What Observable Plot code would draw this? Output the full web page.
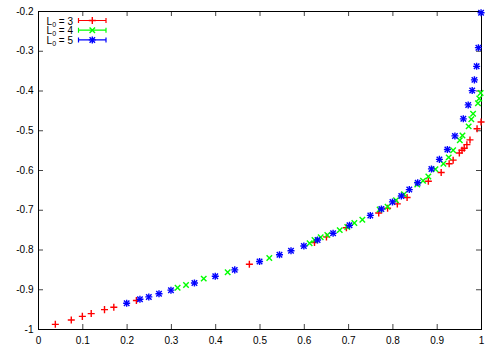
<!DOCTYPE html>
<html><head><meta charset="utf-8">
<script src="https://cdn.jsdelivr.net/npm/d3@7"></script>
<script src="https://cdn.jsdelivr.net/npm/@observablehq/plot@0.6"></script>
<style>body{margin:0;background:#fff} svg{overflow:visible}</style>
</head><body><div id="chart"></div>
<script>
// L0 = 3 (red +)
const x3 = [0.038,0.074,0.099,0.119,0.149,0.170,0.221,0.476,0.623,0.650,0.695,0.768,0.788,0.810,0.832,0.880,0.909,0.927,0.936,0.950,0.956,0.961,0.967,0.974,0.990,0.999];
const y3 = [-0.987,-0.976,-0.967,-0.960,-0.950,-0.944,-0.927,-0.836,-0.781,-0.767,-0.744,-0.707,-0.695,-0.684,-0.668,-0.627,-0.605,-0.583,-0.574,-0.556,-0.549,-0.544,-0.535,-0.523,-0.495,-0.478];
// L0 = 4 (green x)
const x4 = [0.314,0.333,0.373,0.427,0.521,0.612,0.623,0.637,0.652,0.680,0.697,0.713,0.731,0.770,0.788,0.807,0.825,0.855,0.868,0.880,0.896,0.914,0.926,0.936,0.951,0.957,0.971,0.977,0.981,0.992,0.995,0.998];
const y4 = [-0.895,-0.888,-0.872,-0.856,-0.820,-0.783,-0.775,-0.768,-0.762,-0.750,-0.742,-0.732,-0.724,-0.698,-0.691,-0.675,-0.660,-0.635,-0.626,-0.615,-0.597,-0.583,-0.567,-0.549,-0.524,-0.512,-0.489,-0.471,-0.457,-0.431,-0.419,-0.405];
// L0 = 5 (blue *)
const x5 = [0.199,0.229,0.249,0.272,0.299,0.352,0.399,0.443,0.499,0.544,0.570,0.599,0.630,0.665,0.702,0.749,0.774,0.799,0.819,0.837,0.856,0.887,0.905,0.923,0.940,0.959,0.970,0.979,0.984,0.989,0.993,0.999];
const y5 = [-0.934,-0.924,-0.918,-0.910,-0.901,-0.883,-0.866,-0.850,-0.829,-0.812,-0.802,-0.790,-0.775,-0.758,-0.738,-0.713,-0.697,-0.679,-0.664,-0.648,-0.631,-0.596,-0.572,-0.547,-0.513,-0.470,-0.435,-0.399,-0.372,-0.338,-0.291,-0.203];

const seriesLabels = ["3", "4", "5"];
const seriesColors = ["#ff0000", "#00ff00", "#0000ff"];
const xTicks = [0, 0.1, 0.2, 0.3, 0.4, 0.5, 0.6, 0.7, 0.8, 0.9, 1];
const yTicks = [-1, -0.9, -0.8, -0.7, -0.6, -0.5, -0.4, -0.3, -0.2];

const toRows = (xs, ys) => xs.map((x, i) => ({x, y: ys[i]}));
const d3r = toRows(x3, y3), d4r = toRows(x4, y4), d5r = toRows(x5, y5);

const W = 498, H = 349, mL = 38, mR = 17, mT = 11, mB = 20;
const pw = W - mL - mR, ph = H - mT - mB;
const tickCol = "#444";
const rPlus = 2.4, rTimes = 2.6, sw = 1.4;

const chart = Plot.plot({
  width: W, height: H,
  marginLeft: mL, marginRight: mR, marginTop: mT, marginBottom: mB,
  style: {fontFamily: "'Liberation Sans', Arial, sans-serif", fontSize: "10px", background: "#fff", color: "#000"},
  x: {domain: [0, 1]},
  y: {domain: [-1, -0.2]},
  marks: [
    Plot.tickX(xTicks, {x: d => d, insetTop: ph - 5, stroke: tickCol}),
    Plot.tickX(xTicks, {x: d => d, insetBottom: ph - 5, stroke: tickCol}),
    Plot.tickY(yTicks, {y: d => d, insetRight: pw - 5, stroke: tickCol}),
    Plot.tickY(yTicks, {y: d => d, insetLeft: pw - 5, stroke: tickCol}),
    Plot.axisX({ticks: xTicks, tickSize: 0, tickPadding: 7, tickFormat: d => String(d), label: null, fontSize: 10}),
    Plot.axisY({ticks: yTicks, tickSize: 0, tickPadding: 5, tickFormat: d => String(d), label: null, fontSize: 10}),
    Plot.frame({stroke: "#000"}),
    Plot.dot(d3r, {x: "x", y: "y", symbol: "plus", r: rPlus, stroke: seriesColors[0], strokeWidth: sw}),
    Plot.dot(d4r, {x: "x", y: "y", symbol: "times", r: rTimes, stroke: seriesColors[1], strokeWidth: sw}),
    Plot.dot(d5r, {x: "x", y: "y", symbol: "plus", r: rPlus, stroke: seriesColors[2], strokeWidth: sw}),
    Plot.dot(d5r, {x: "x", y: "y", symbol: "times", r: rTimes, stroke: seriesColors[2], strokeWidth: sw})
  ]
});
document.getElementById("chart").appendChild(chart);

// legend (gnuplot-style key, top left inside frame)
const svg = d3.select(chart);
const key = svg.append("g").attr("font-family", "'Liberation Sans', Arial, sans-serif").attr("font-size", 10);
const symPlus = d3.symbol(d3.symbolPlus, rPlus * rPlus * Math.PI)();
const symTimes = d3.symbol(d3.symbolTimes, rTimes * rTimes * Math.PI)();
seriesLabels.forEach((lab, i) => {
  const cy = 20.5 + i * 9.7;
  const t = key.append("text").attr("x", 73).attr("y", cy + 4).attr("text-anchor", "end");
  t.append("tspan").text("L");
  t.append("tspan").attr("font-size", 7).attr("dy", 2).text("0");
  t.append("tspan").attr("dy", -2).text(" = " + lab);
  const g = key.append("g").attr("stroke", seriesColors[i]).attr("fill", "none").attr("stroke-width", 1.2);
  g.append("path").attr("d", `M78.5,${cy}H106M78.5,${cy - 2.5}V${cy + 2.5}M106,${cy - 2.5}V${cy + 2.5}`);
  const syms = i === 0 ? [symPlus] : i === 1 ? [symTimes] : [symPlus, symTimes];
  syms.forEach(s => g.append("path").attr("d", s).attr("transform", `translate(92.3,${cy})`).attr("stroke-width", sw));
});
</script>
</body></html>
